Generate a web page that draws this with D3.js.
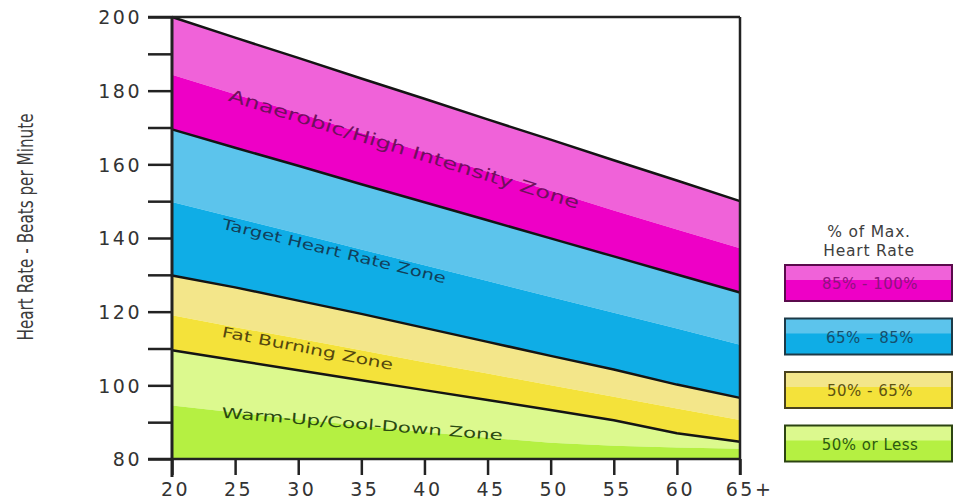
<!DOCTYPE html>
<html>
<head>
<meta charset="utf-8">
<script src="https://cdn.jsdelivr.net/npm/d3@7"></script>
<style>
  body { margin: 0; background: #fff; }
  svg { display: block; }
  .tickText { font-family: "DejaVu Sans", sans-serif; fill: #333; }
</style>
</head>
<body>
<div id="chart"></div>
<script>
// ages on the x axis
var ages = [20, 25, 30, 35, 40, 45, 50, 55, 60, 65];
var ageLabels = ["20", "25", "30", "35", "40", "45", "50", "55", "60", "65+"];
var bpmTicks = [80, 90, 100, 110, 120, 130, 140, 150, 160, 170, 180, 190, 200];

// boundaries (beats per minute at each age)
var maxRate     = [200, 194.4, 188.9, 183.3, 177.8, 172.2, 166.7, 161.1, 155.6, 150];
var pinkSplit   = [184.3, 179, 174, 168.5, 163.3, 158, 152.8, 147.5, 142.3, 137.2];
var rate85      = [169.5, 164.5, 159.6, 154.6, 149.7, 144.8, 139.9, 135, 130.1, 125.2];
var blueSplit   = [149.8, 145.5, 141.2, 136.9, 132.6, 128.3, 124, 119.7, 115.4, 111];
var rate65      = [129.8, 126.6, 123, 119.4, 115.6, 111.8, 108, 104.3, 100.2, 96.6];
var yellowSplit = [119, 115.8, 112.7, 109.5, 106.3, 103.2, 100, 96.9, 93.7, 90.6];
var rate50      = [109.5, 106.8, 104.1, 101.4, 98.7, 96, 93.3, 90.5, 87, 84.7];
var greenSplit  = [94.5, 92.6, 90.8, 89, 87.3, 85.8, 84.4, 83.6, 83.1, 82.8];
var floorRate   = [80, 80, 80, 80, 80, 80, 80, 80, 80, 80];

var bandColors = ["#f062d9", "#ee00c6", "#5cc4ec", "#0fade6",
                  "#f3e68a", "#f4e23a", "#dcf98e", "#b5f042"];

var legendTitle = ["% of Max.", "Heart Rate"];
var legendLabels = ["85% - 100%", "65% – 85%", "50% - 65%", "50% or Less"];
var legendLight = ["#f062d9", "#5cc4ec", "#f3e68a", "#dcf98e"];
var legendDark  = ["#ee00c6", "#0fade6", "#f4e23a", "#b5f042"];
var legendInk   = ["#8e1380", "#164f6c", "#5c5212", "#2c5a10"];
var legendEdge  = ["#5a0a4c", "#1c3a48", "#4a421c", "#2c4412"];

var zoneNames = ["Anaerobic/High Intensity Zone", "Target Heart Rate Zone",
                 "Fat Burning Zone", "Warm-Up/Cool-Down Zone"];
var zoneAt    = [[24.4, 177.3], [23.9, 142.6], [23.9, 113.2], [23.9, 91.2]];
var zoneInk   = ["#70105e", "#123f5a", "#54480e", "#2a4a10"];

var width = 954, height = 503;
var svg = d3.select("#chart").append("svg")
    .attr("width", width)
    .attr("height", height);

var x = d3.scaleLinear().domain([20, 65]).range([172, 740]);
var y = d3.scaleLinear().domain([80, 200]).range([459, 17]);

var bounds = [maxRate, pinkSplit, rate85, blueSplit, rate65, yellowSplit, rate50, greenSplit, floorRate];

// colour bands between each pair of boundaries
var area = d3.area()
    .x(function(d) { return x(d.age); })
    .y0(function(d) { return y(d.lo); })
    .y1(function(d) { return y(d.hi); });

for (var b = 0; b < bandColors.length; b++) {
    var pts = ages.map(function(a, i) {
        return {age: a, hi: bounds[b][i], lo: bounds[b + 1][i]};
    });
    svg.append("path")
        .attr("d", area(pts))
        .attr("fill", bandColors[b]);
}

// black zone lines
var line = d3.line()
    .x(function(d) { return x(d.age); })
    .y(function(d) { return y(d.v); });

[maxRate, rate85, rate65, rate50].forEach(function(arr) {
    svg.append("path")
        .attr("d", line(ages.map(function(a, i) { return {age: a, v: arr[i]}; })))
        .attr("fill", "none")
        .attr("stroke", "#141414")
        .attr("stroke-width", 2.5)
        .attr("stroke-linejoin", "round");
});

// zone labels, tilted along the bands
var angles = [17.2, 13.8, 11, 4.6];
zoneNames.forEach(function(name, i) {
    var px = x(zoneAt[i][0]), py = y(zoneAt[i][1]);
    svg.append("text")
        .attr("transform", "translate(" + px + "," + py + ") rotate(" + angles[i] + ")")
        .attr("font-family", "DejaVu Sans, sans-serif")
        .attr("font-size", i == 0 ? 17 : 14.5)
        .attr("fill", zoneInk[i])
        .attr("textLength", [366, 230, 174, 282][i])
        .attr("lengthAdjust", "spacingAndGlyphs")
        .text(name);
});

// frame: top and right lines
svg.append("line").attr("x1", 148).attr("x2", x(65))
    .attr("y1", y(200)).attr("y2", y(200))
    .attr("stroke", "#222").attr("stroke-width", 2.5);
svg.append("line").attr("x1", x(65)).attr("x2", x(65))
    .attr("y1", y(200)).attr("y2", y(80) + 16)
    .attr("stroke", "#222").attr("stroke-width", 2.5);

// y axis
var yAxis = d3.axisLeft(y)
    .tickValues(bpmTicks)
    .tickSize(24)
    .tickPadding(6)
    .tickFormat(function(d) { return d % 20 == 0 ? d : ""; });
var gy = svg.append("g")
    .attr("transform", "translate(" + x(20) + ",0)")
    .call(yAxis);
gy.select(".domain").remove();
gy.selectAll("line").attr("stroke", "#222").attr("stroke-width", 2.5);
gy.selectAll("text")
    .attr("class", "tickText")
    .attr("font-size", 19)
    .attr("letter-spacing", 2.5)
    .attr("dy", "0.36em");
svg.append("line").attr("x1", x(20)).attr("x2", x(20))
    .attr("y1", y(200) - 1).attr("y2", y(80) + 18)
    .attr("stroke", "#222").attr("stroke-width", 3);

// x axis
var xAxis = d3.axisBottom(x)
    .tickValues(ages)
    .tickSize(16)
    .tickPadding(8)
    .tickFormat(function(d, i) { return ageLabels[i]; });
var gx = svg.append("g")
    .attr("transform", "translate(0," + y(80) + ")")
    .call(xAxis);
gx.select(".domain").remove();
gx.selectAll("line").attr("stroke", "#222").attr("stroke-width", 2.5);
gx.selectAll("text")
    .attr("class", "tickText")
    .attr("font-size", 19)
    .attr("letter-spacing", 2.5)
    .attr("dx", function(d) { return d == 65 ? 9 : 3; });
svg.append("line").attr("x1", 148).attr("x2", x(65))
    .attr("y1", y(80)).attr("y2", y(80))
    .attr("stroke", "#222").attr("stroke-width", 2.5);

// y axis title
svg.append("text")
    .attr("transform", "translate(33,227) rotate(-90)")
    .attr("text-anchor", "middle")
    .attr("font-family", "DejaVu Sans Condensed, DejaVu Sans, sans-serif")
    .attr("font-size", 21)
    .attr("fill", "#3b3b3b")
    .attr("textLength", 227)
    .attr("lengthAdjust", "spacingAndGlyphs")
    .text("Heart Rate - Beats per Minute");

// legend
var legend = svg.append("g");
legendTitle.forEach(function(t, i) {
    legend.append("text")
        .attr("x", 869)
        .attr("y", 237 + i * 19)
        .attr("text-anchor", "middle")
        .attr("font-family", "DejaVu Sans, sans-serif")
        .attr("font-size", 15.5)
        .attr("letter-spacing", 0.8)
        .attr("fill", "#3e3e3e")
        .text(t);
});
legendLabels.forEach(function(t, i) {
    var top = 265 + i * 53.5;
    legend.append("rect")
        .attr("x", 785).attr("y", top)
        .attr("width", 167).attr("height", 36)
        .attr("fill", legendDark[i]);
    legend.append("rect")
        .attr("x", 785).attr("y", top)
        .attr("width", 167).attr("height", 15)
        .attr("fill", legendLight[i]);
    legend.append("rect")
        .attr("x", 785).attr("y", top)
        .attr("width", 167).attr("height", 36)
        .attr("fill", "none")
        .attr("stroke", legendEdge[i])
        .attr("stroke-width", 2);
    legend.append("text")
        .attr("x", 870)
        .attr("y", top + 24)
        .attr("text-anchor", "middle")
        .attr("font-family", "DejaVu Sans, sans-serif")
        .attr("font-size", 15)
        .attr("letter-spacing", 0.5)
        .attr("fill", legendInk[i])
        .text(t);
});
</script>
</body>
</html>
